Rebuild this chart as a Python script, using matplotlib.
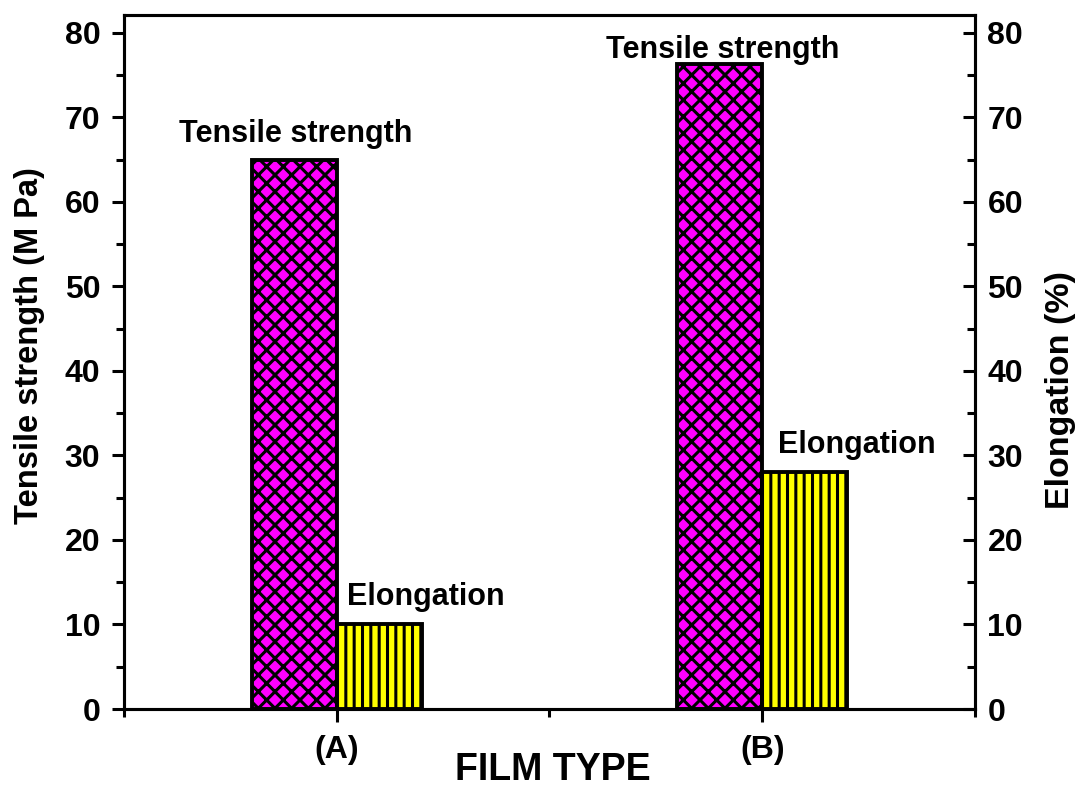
import matplotlib
matplotlib.use("Agg")
import matplotlib.pyplot as plt
import numpy as np
from matplotlib.ticker import MultipleLocator

# данные с графика
film_types = ["(A)", "(B)"]
tensile = [65, 76.3]      # M Pa
elongation = [10, 28]     # %

plt.rcParams['font.family'] = ['Liberation Sans', 'DejaVu Sans']
plt.rcParams['font.weight'] = 'bold'
plt.rcParams['hatch.linewidth'] = 2.2

fig = plt.figure(figsize=(10.82, 7.87), dpi=100)
ax = fig.add_axes([0.1146, 0.0991, 0.7865, 0.8819])
ax2 = ax.twinx()

x = np.arange(1, len(film_types) + 1)
w = 0.2

ax.bar(x - w / 2, tensile, w, color='#ff00ff', edgecolor='black',
       linewidth=2.8, hatch='xx')
ax2.bar(x + w / 2, elongation, w, color='#ffff00', edgecolor='black',
        linewidth=2.8, hatch='||')

ax.set_xlim(0.5, 2.5)
ax.set_ylim(0, 82.1)
ax2.set_ylim(0, 82.1)

ax.set_xticks(x)
ax.set_xticklabels(film_types)
ax.xaxis.set_minor_locator(MultipleLocator(0.5))
for a in (ax, ax2):
    a.yaxis.set_major_locator(MultipleLocator(10))
    a.yaxis.set_minor_locator(MultipleLocator(5))
    for s in a.spines.values():
        s.set_linewidth(2.2)
    a.tick_params(which='major', direction='out', length=9, width=2.2,
                  labelsize=23, pad=8)
    a.tick_params(which='minor', direction='out', length=6, width=2.2)
# правая ось: риски внутрь
ax2.tick_params(which='both', direction='in', pad=9)
ax.tick_params(axis='x', which='major', pad=10)

# подпись оси X ставим вручную, чтобы не обрезалась снизу
fig.text(553 / 1082, 1 - 770 / 787, "FILM TYPE", ha='center', va='center',
         fontsize=27, fontweight='bold')
ax.set_ylabel("Tensile strength (M Pa)", fontsize=23.5, fontweight='bold')
ax.yaxis.set_label_coords(-0.093, 0.524)
ax2.set_ylabel("Elongation (%)", fontsize=24.5, fontweight='bold')
ax2.yaxis.set_label_coords(1.082, 0.46)

# подписи над столбиками
ax.text(0.904, 67.1, "Tensile strength", ha='center', va='baseline', fontsize=22, fontweight='bold')
ax.text(1.908, 77.0, "Tensile strength", ha='center', va='baseline', fontsize=22, fontweight='bold')
ax2.text(1.024, 12.3, "Elongation", ha='left', va='baseline', fontsize=22, fontweight='bold')
ax2.text(2.038, 30.3, "Elongation", ha='left', va='baseline', fontsize=22, fontweight='bold')

fig.savefig("out.png", dpi=100)
